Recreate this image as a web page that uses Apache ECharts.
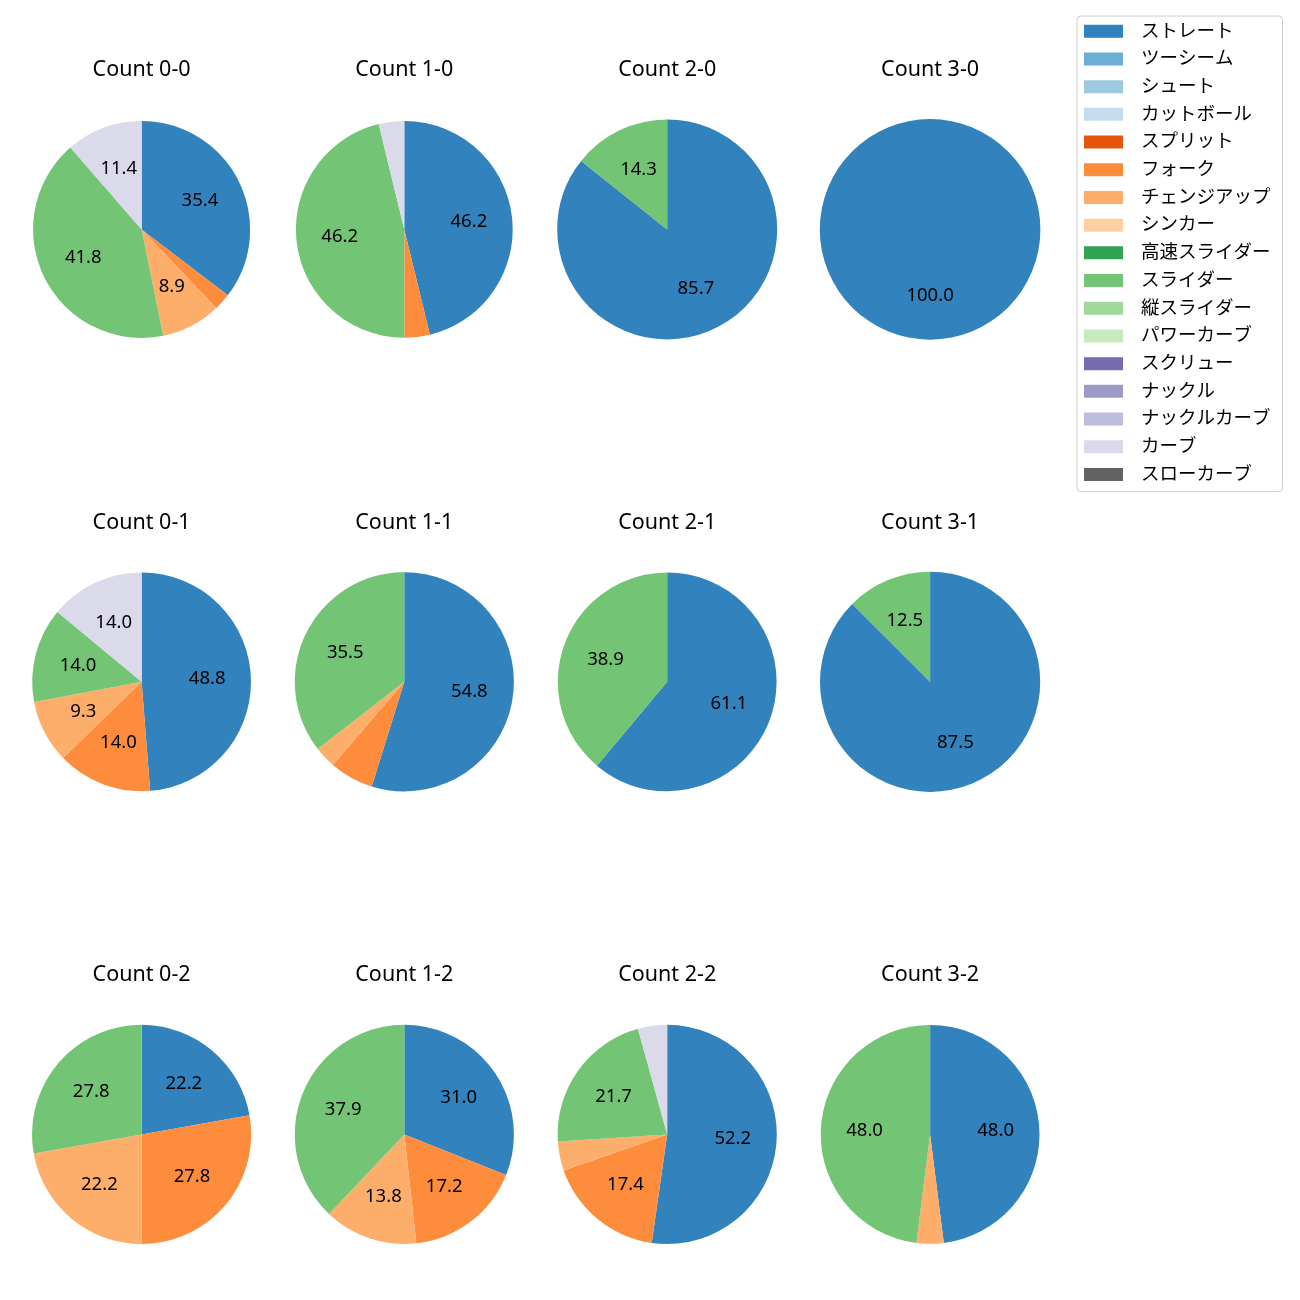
<!DOCTYPE html>
<html>
<head>
<meta charset="utf-8">
<script src="https://cdn.jsdelivr.net/npm/echarts@6/dist/echarts.min.js"></script>
<style>
html,body{margin:0;padding:0;background:#fff;}
#chart{width:1300px;height:1300px;}
</style>
</head>
<body>
<div id="chart"></div>
<script>
// Pitch types (legend order) and colours
const pitchTypes = ['ストレート','ツーシーム','シュート','カットボール','スプリット','フォーク','チェンジアップ','シンカー','高速スライダー','スライダー','縦スライダー','パワーカーブ','スクリュー','ナックル','ナックルカーブ','カーブ','スローカーブ'];
const pitchColors = ['#3182bd','#6baed6','#9ecae1','#c6dbef','#e6550d','#fd8d3c','#fdae6b','#fdd0a2','#31a354','#74c476','#a1d99b','#c7e9c0','#756bb1','#9e9ac8','#bcbddc','#dadaeb','#636363'];

// Count titles
const counts = ['Count 0-0','Count 1-0','Count 2-0','Count 3-0',
                'Count 0-1','Count 1-1','Count 2-1','Count 3-1',
                'Count 0-2','Count 1-2','Count 2-2','Count 3-2'];

// Percent shares per count, by pitch type (only non-zero types)
const count00 = {'ストレート':35.4,'フォーク':2.5,'チェンジアップ':8.9,'スライダー':41.8,'カーブ':11.4};
const count10 = {'ストレート':46.2,'フォーク':3.8,'スライダー':46.2,'カーブ':3.8};
const count20 = {'ストレート':85.7,'スライダー':14.3};
const count30 = {'ストレート':100.0};
const count01 = {'ストレート':48.8,'フォーク':14.0,'チェンジアップ':9.3,'スライダー':14.0,'カーブ':14.0};
const count11 = {'ストレート':54.8,'フォーク':6.5,'チェンジアップ':3.2,'スライダー':35.5};
const count21 = {'ストレート':61.1,'スライダー':38.9};
const count31 = {'ストレート':87.5,'スライダー':12.5};
const count02 = {'ストレート':22.2,'フォーク':27.8,'チェンジアップ':22.2,'スライダー':27.8};
const count12 = {'ストレート':31.0,'フォーク':17.2,'チェンジアップ':13.8,'スライダー':37.9};
const count22 = {'ストレート':52.2,'フォーク':17.4,'チェンジアップ':4.3,'スライダー':21.7,'カーブ':4.3};
const count32 = {'ストレート':48.0,'チェンジアップ':4.0,'スライダー':48.0};
const pieValues = [count00,count10,count20,count30,count01,count11,count21,count31,count02,count12,count22,count32];

// Layout
const colX = [141.6, 404.3, 667.2, 930.1];
const rowY = [229.4, 681.8, 1134.4];
const titleY = [70, 523, 975];
const radii = [108.5,108.4,110,110.3, 109.4,109.6,109.4,110.1, 109.6,109.6,109.6,109.4];
const FONT = '"Noto Sans", "Noto Sans CJK JP", sans-serif';
const LABEL_MIN = 7;

const series = [];
const graphics = [];
pieValues.forEach((vals, i) => {
  const cx = colX[i % 4], cy = rowY[Math.floor(i / 4)];
  const r = radii[i];
  const data = pitchTypes.map((name, k) => ({
    name, value: vals[name] || 0, itemStyle: {color: pitchColors[k]}
  }));
  series.push({
    type: 'pie', center: [cx, cy], radius: [0, r],
    startAngle: 90, clockwise: true, animation: false, silent: true,
    itemStyle: {borderWidth: 0},
    label: {show: false}, labelLine: {show: false},
    emphasis: {disabled: true},
    data
  });
  series.push({
    type: 'pie', center: [cx, cy], radius: [0.2 * r - 6, r],
    startAngle: 90, clockwise: true, animation: false, silent: true,
    avoidLabelOverlap: false,
    itemStyle: {borderWidth: 0, color: 'rgba(0,0,0,0)'},
    label: {
      show: true, position: 'inside', color: '#000', fontSize: 18.5, fontFamily: FONT,
      formatter: p => (p.value > LABEL_MIN ? p.value.toFixed(1) : '')
    },
    labelLine: {show: false},
    emphasis: {disabled: true},
    data: pitchTypes.map((name) => ({name, value: vals[name] || 0, itemStyle: {color: 'rgba(0,0,0,0)'}}))
  });
  graphics.push({
    type: 'text', x: cx, y: titleY[Math.floor(i / 4)],
    style: {text: counts[i], textAlign: 'center', textVerticalAlign: 'middle',
            font: '21.5px ' + FONT, fill: '#000'}
  });
});

const chart = echarts.init(document.getElementById('chart'), null, {renderer: 'canvas'});
chart.setOption({
  animation: false,
  backgroundColor: '#fff',
  legend: {
    orient: 'vertical', left: 1077, top: 16,
    data: pitchTypes,
    selectedMode: false,
    itemWidth: 39, itemHeight: 13, itemGap: 9.2,
    icon: 'rect',
    padding: [6, 12, 8, 7],
    borderColor: '#cccccc', borderWidth: 1, borderRadius: 4,
    textStyle: {fontSize: 18.5, fontFamily: FONT, color: '#000', padding: [0, 0, 0, 13]}
  },
  graphic: graphics,
  series
});
</script>
</body>
</html>
